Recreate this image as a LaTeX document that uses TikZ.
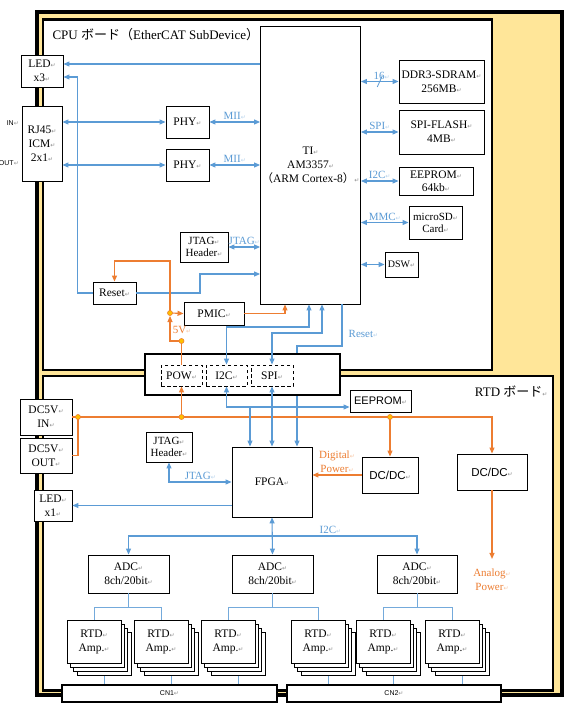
\documentclass[tikz,border=0pt]{standalone}
\usepackage{fontspec}
\setmainfont{Liberation Serif}
\setsansfont{Liberation Sans}
\newfontfamily\jpfont{Noto Sans CJK JP}
\newfontfamily\symfont{DejaVu Sans}
\usetikzlibrary{arrows.meta,calc}
\definecolor{linkblue}{RGB}{91,155,213}
\definecolor{poworange}{RGB}{237,125,49}
\definecolor{boardyellow}{RGB}{255,230,153}
\definecolor{dotyellow}{RGB}{255,192,0}
\newcommand{\ret}{{\symfont\fontsize{6}{6}\selectfont\color{.!45}↵}}
\newcommand{\boxfont}{\fontsize{11.5}{14}\selectfont}
\newcommand{\smallbox}{\fontsize{11}{12}\selectfont}
\newcommand{\lblfont}{\fontsize{11}{14}\selectfont}
\newcommand{\titlefont}{\fontsize{13}{15}\selectfont}
\tikzset{sz/.style 2 args={minimum width=#1pt, minimum height=#2pt}}

\begin{document}
\begin{tikzpicture}[x=1pt, y=-1pt,
    blk/.style={draw, line width=0.9pt, fill=white, align=center, inner sep=1pt, font=\boxfont},
    port/.style={draw, line width=0.9pt, dash pattern=on 3.5pt off 2.5pt, fill=white,
                 inner sep=1pt, font=\boxfont, minimum height=21pt},
    cn/.style={draw, line width=2pt, fill=white, font=\sffamily\fontsize{7}{8}\selectfont},
    barr/.style={-{Triangle[length=6pt,width=5pt]}, line width=1.1pt, linkblue},
    dbarr/.style={{Triangle[length=6pt,width=5pt]}-{Triangle[length=6pt,width=5pt]},
                  line width=1.1pt, linkblue},
    tree/.style={line width=1pt, linkblue!85},
    oarr/.style={-{Triangle[length=6pt,width=5pt]}, line width=1.1pt, poworange},
    oline/.style={line width=1.1pt, poworange},
    junc/.style={circle, draw=poworange, fill=dotyellow, line width=0.6pt,
                 minimum size=5pt, inner sep=0pt},
    blbl/.style={text=linkblue, font=\lblfont, inner sep=1.5pt},
    olbl/.style={text=poworange, font=\lblfont, inner sep=1pt, align=center},
    side/.style={font=\sffamily\fontsize{7}{8}\selectfont, inner sep=0pt}
  ]
  \useasboundingbox (0,0) rectangle (573,711);

  % ===== Board outlines =====
  \filldraw[fill=boardyellow, line width=4pt] (37,12.5) rectangle (561.5,695);
  \filldraw[fill=white, line width=2.5pt] (43,19.5) rectangle (492,370);
  \filldraw[fill=white, line width=2.5pt] (43,376) rectangle (553,690.5);
  \node[anchor=west, font=\titlefont] (cputitle) at (49,35)
    {CPU {\jpfont ボード（}EtherCAT SubDevice{\jpfont ）}};
  \node[anchor=east, font=\titlefont] (rtdtitle) at (551,391) {RTD {\jpfont ボード}\ret};

  % ===== CPU board blocks =====
  \node[blk, sz={42}{32}] (ledA) at (42,71) {LED\ret\\x3\ret};
  \node[blk, sz={40}{75}] (rj45) at (42,143.5) {RJ45\ret\\ICM\ret\\2x1\ret};
  \node[side, anchor=east] (inlbl) at (19,123) {IN\ret};
  \node[side, anchor=east] (outlbl) at (19,163) {OUT\ret};
  \node[blk, sz={43}{32}] (phyA) at (187.5,122) {PHY\ret};
  \node[blk, sz={43}{32}] (phyB) at (187.5,165) {PHY\ret};
  \node[blk, sz={93}{278}] (ti) at (310.5,165)
    {TI\ret\\AM3357\ret\\{\jpfont （}ARM Cortex-8{\jpfont ）}\ret};
  \node[blk, sz={85}{43}] (ddr) at (441.5,81.5) {DDR3-SDRAM\ret\\256MB\ret};
  \node[blk, sz={85}{44}] (flash) at (441.5,132) {SPI-FLASH\ret\\4MB\ret};
  \node[blk, sz={74}{28}, font=\fontsize{11.5}{12.5}\selectfont] (eepA) at (436,181) {EEPROM\ret\\64kb\ret};
  \node[blk, sz={53}{33}, font=\smallbox] (sd) at (435.5,222.5) {microSD\ret\\Card\ret};
  \node[blk, sz={33}{25}, font=\fontsize{10}{12}\selectfont] (dsw) at (401.5,264.5) {DSW\ret};
  \node[blk, sz={48}{30}, font=\smallbox] (jtagA) at (204,247) {JTAG\ret\\Header\ret};
  \node[blk, sz={43}{22}] (reset) at (114.5,293) {Reset\ret};
  \node[blk, sz={60}{23}] (pmic) at (214,313.5) {PMIC\ret};

  % ===== RTD board blocks =====
  \node[blk, sz={52}{36}] (dcin) at (46,417) {DC5V\ret\\IN\ret};
  \node[blk, sz={52}{35}] (dcout) at (46,455.5) {DC5V\ret\\OUT\ret};
  \node[blk, sz={38}{31}] (ledB) at (53,505.5) {LED\ret\\x1\ret};
  \node[blk, sz={46}{30}, font=\smallbox] (jtagB) at (169,447) {JTAG\ret\\Header\ret};
  \node[blk, sz={80}{70}] (fpga) at (272,482) {FPGA\ret};
  \node[blk, sz={61}{22}, font=\sffamily\smallbox] (eepB) at (380.5,401) {EEPROM\ret};
  \node[blk, sz={56}{36}, font=\sffamily\boxfont] (dcdA) at (390,475) {DC/DC\ret};
  \node[blk, sz={70}{36}, font=\sffamily\boxfont] (dcdB) at (492,472) {DC/DC\ret};
  \node[blk, sz={81}{38}] (adcA) at (128.5,574) {ADC\ret\\8ch/20bit\ret};
  \node[blk, sz={81}{38}] (adcB) at (272.5,574) {ADC\ret\\8ch/20bit\ret};
  \node[blk, sz={80}{38}] (adcC) at (417,574) {ADC\ret\\8ch/20bit\ret};

  % reset line runs behind the board-to-board connector
  \draw[barr] (ti.south -| 342,0) |- (297,346) -- (fpga.north -| 297,0);
  \node[blbl, anchor=west] (rstlbl) at (347,334) {Reset\ret};

  % ===== Board-to-board connector =====
  \node[draw, line width=1.1pt, fill=white, sz={195}{41}] (cnb) at (242.5,374.5) {};
  \node[port, minimum width=41pt] (pow) at (181.5,375.5) {POW\ret};
  \node[port, minimum width=41pt] (i2cp) at (226.5,375.5) {I2C\ret};
  \node[port, minimum width=42pt] (spip) at (272,375.5) {SPI\ret};

  % ===== CPU board links =====
  \draw[barr] ($(ti.west |- ledA.east)+(0,-7)$) -- ($(ledA.east)+(0,-7)$);
  \draw[barr] (reset.west) -- ++(-15,0) |- ($(ledA.east)+(0,6)$);
  \draw[dbarr] (rj45.east |- phyA.west) -- (phyA.west);
  \draw[dbarr] (rj45.east |- phyB.west) -- (phyB.west);
  \draw[dbarr] (phyA.east) -- node[above, blbl] {MII\ret} (ti.west |- phyA.east);
  \draw[dbarr] (phyB.east) -- node[above, blbl] {MII\ret} (ti.west |- phyB.east);
  \draw[dbarr] (ti.east |- ddr.west) -- node[above, blbl, xshift=2pt] {16\ret} (ddr.west);
  \draw[line width=0.8pt, linkblue] ($(ti.east |- ddr.west)!0.5!(ddr.west)+(-2.5,5.5)$) -- ++(5,-11);
  \draw[dbarr] (ti.east |- flash.west) -- node[above, blbl] {SPI\ret} (flash.west);
  \draw[dbarr] (ti.east |- eepA.west) -- node[above, blbl] {I2C\ret} (eepA.west);
  \draw[dbarr] (ti.east |- sd.west) -- node[above, blbl] {MMC\ret} (sd.west);
  \draw[dbarr] (ti.east |- dsw.west) -- (dsw.west);
  \draw[dbarr] (jtagA.east) -- node[above, blbl] {JTAG\ret} (ti.west |- jtagA.east);
  \draw[barr] (reset.east) -| (200,274) -- (ti.west |- 200,274);
  \draw[dbarr] (i2cp.north) |- (309,327) -- (ti.south -| 309,0);
  \draw[dbarr] (spip.north) |- (322,333) -- (ti.south -| 322,0);

  % ===== Power (5V) =====
  \coordinate (j5a) at (170,313);
  \coordinate (j5b) at (181.5,341);
  \coordinate (j5c) at (181.5,417);
  \coordinate (j5d) at (78,417);
  \coordinate (j5e) at (390,417);
  \draw[oline] (pow.north) -- (j5b);
  \draw[oarr, shorten >=3pt] (j5b) -| (j5a);
  \node[olbl] (v5lbl) at (182,330) {5V\ret};
  \draw[oarr] (j5a) -- (pmic.west);
  \draw[oarr] (j5a) |- (reset.north |- 0,261) -- (reset.north);
  \draw[oarr] (pmic.east) -| (ti.south -| 285,0);
  \draw[oarr] (dcin.east) -- (dcdB.north |- j5c) -- (dcdB.north);
  \draw[oline] (j5d) |- (dcout.east);
  \draw[oarr] (j5c) -- (pow.south);
  \draw[oarr] (j5e) -- (dcdA.north);
  \draw[oarr] (dcdA.west) -- node[above, olbl, yshift=1pt] {Digital\ret\\Power\ret} (fpga.east |- dcdA.west);
  \node[olbl] (apw) at (492,580) {Analog\ret\\Power\ret};
  \draw[oarr, shorten >=9pt] (dcdB.south) -- (apw.north);

  % ===== RTD board links =====
  \coordinate (i2cj) at (250,407);
  \draw[dbarr] (i2cp.south) |- ($(eepB.west)+(0,6)$);
  \draw[barr] (i2cj) -- (fpga.north -| i2cj);
  \draw[dbarr] (spip.south) -- (fpga.north -| spip.south);
  \draw[dbarr] (jtagB.south) |- node[pos=0.75, above, blbl] {JTAG\ret} (fpga.west);
  \draw[barr] (fpga.west |- ledB.east) -- (ledB.east);
  \draw[dbarr] (fpga.south) -- (adcB.north);
  \draw[dbarr] (adcA.north) |- node[pos=0.85, above, blbl] {I2C\ret} (adcC.north |- 0,536) -- (adcC.north);

  % ===== RTD amplifier stacks =====
  \foreach \n/\x in {ra/94, rb/161, rc/228, rd/318, re/383, rf/452} {
    \foreach \k in {3,2,1}
      \node[blk, sz={54}{43}] (\n\k) at (\x+3.4*\k, 641.5+4.3*\k) {};
    \node[blk, sz={54}{43}] (\n) at (\x,641.5) {RTD\ret\\Amp.\ret};
  }
  \foreach \a/\l/\r in {adcA/ra/rb, adcB/rc/rd, adcC/re/rf} {
    \draw[tree] (\a.south) -- (\a.south |- 0,607);
    \draw[tree] (\l.north) |- (\r.north |- 0,607) -- (\r.north);
  }
  \node[cn, sz={215}{17}] (cnA) at (169.5,693.5) {CN1\ret};
  \node[cn, sz={214}{17}] (cnB) at (394,693.5) {CN2\ret};
  \foreach \n/\c in {ra/cnA, rb/cnA, rc/cnA, rd/cnB, re/cnB, rf/cnB}
    \draw[tree] (\n3.south) -- (\n3.south |- \c.north);

  % junction dots
  \foreach \j in {j5a, j5b, j5c, j5d, j5e}
    \node[junc] at (\j) {};
\end{tikzpicture}
\end{document}
